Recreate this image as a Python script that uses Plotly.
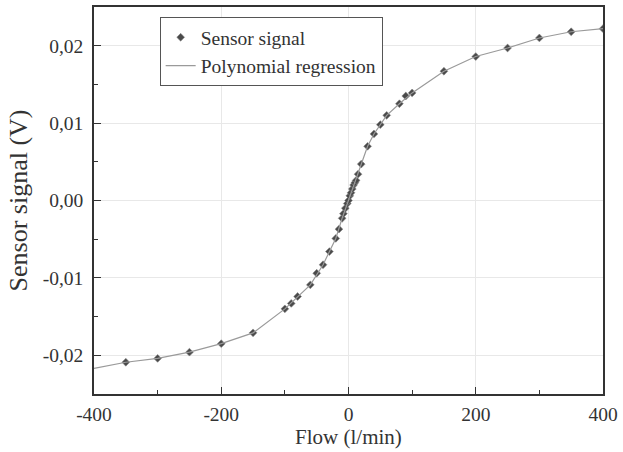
import plotly.graph_objects as go

# Sensor data
flow = [-350, -300, -250, -200, -150, -100, -90, -80, -60, -50, -40, -30,
        -20, -15, -10, -8, -5, -2, 0, 2, 4, 6, 8, 10, 12, 15, 20,
        30, 40, 50, 60, 80, 90, 100, 150, 200, 250, 300, 350, 400]
signal = [-0.0209, -0.0204, -0.0196, -0.0185, -0.0171, -0.0140, -0.0133, -0.0124,
          -0.0109, -0.0094, -0.0083, -0.0066,
          -0.0049, -0.0037, -0.0023, -0.0017, -0.0010, -0.0004, 0.0000, 0.0006,
          0.0010, 0.0015, 0.0020, 0.0023, 0.0026, 0.0034, 0.0047,
          0.0070, 0.0086, 0.0098, 0.0110, 0.0125, 0.0135, 0.0139,
          0.0167, 0.0186, 0.0197, 0.0210, 0.0218, 0.0222]

# Regression curve
reg_flow = [-400, -350, -300, -250, -200, -150, -100, -80, -60, -40, -30, -20, -10,
            0, 10, 20, 30, 40, 50, 60, 80, 100, 150, 200, 250, 300, 350, 400]
reg_signal = [-0.0217, -0.0209, -0.0204, -0.0196, -0.0185, -0.0171, -0.0140, -0.0124,
              -0.0109, -0.0083, -0.0066, -0.0049, -0.0023,
              0.0000, 0.0023, 0.0047, 0.0070, 0.0086, 0.0098, 0.0110, 0.0125, 0.0139,
              0.0167, 0.0186, 0.0197, 0.0210, 0.0218, 0.0222]

x_ticks = [-400, -200, 0, 200, 400]
x_ticktext = ["-400", "-200", "0", "200", "400"]
y_ticks = [-0.02, -0.01, 0.0, 0.01, 0.02]
y_ticktext = ["-0,02", "-0,01", "0,00", "0,01", "0,02"]

font_family = "Liberation Serif"

fig = go.Figure()
fig.add_trace(go.Scatter(
    x=flow, y=signal, mode="markers", name="Sensor signal",
    marker=dict(symbol="diamond", size=6, color="#4a4a4a",
                line=dict(color="#8a8a8a", width=0.6)),
))
fig.add_trace(go.Scatter(
    x=reg_flow, y=reg_signal, mode="lines", name="Polynomial regression",
    line=dict(color="#9a9a9a", width=1.2),
))

axis_common = dict(
    showline=True, linecolor="#333333", linewidth=1.5, mirror=True,
    ticks="inside", ticklen=7, tickcolor="#333333", tickwidth=1.2,
    showgrid=True, gridcolor="#e8e8e8", gridwidth=1,
    zeroline=False,
    tickfont=dict(family=font_family, size=19.5, color="#333333"),
)

fig.update_xaxes(
    range=[-400, 400], tickvals=x_ticks, ticktext=x_ticktext,
    ticklabelstandoff=2,
    minor=dict(ticks="inside", dtick=100, ticklen=4, tickcolor="#333333", showgrid=False),
    title=dict(text="Flow (l/min)", font=dict(family=font_family, size=21, color="#333333"), standoff=2),
    **axis_common,
)
fig.update_yaxes(
    range=[-0.025, 0.025], tickvals=y_ticks, ticktext=y_ticktext,
    ticklabelstandoff=5,
    minor=dict(ticks="inside", dtick=0.005, tick0=0, ticklen=4, tickcolor="#333333", showgrid=False),
    title=dict(text="Sensor signal (V)", font=dict(family=font_family, size=26, color="#333333"), standoff=8),
    **axis_common,
)

fig.update_layout(
    width=623, height=452,
    margin=dict(l=94, r=17, t=5, b=58),
    paper_bgcolor="white", plot_bgcolor="white",
    font=dict(family=font_family, color="#333333"),
    showlegend=True,
    legend=dict(
        x=0.129, y=0.974, xanchor="left", yanchor="top",
        bgcolor="white", bordercolor="#555555", borderwidth=1,
        font=dict(family=font_family, size=19.5, color="#333333"),
        itemwidth=30, tracegroupgap=0,
    ),
)

fig.write_html("out.html")
